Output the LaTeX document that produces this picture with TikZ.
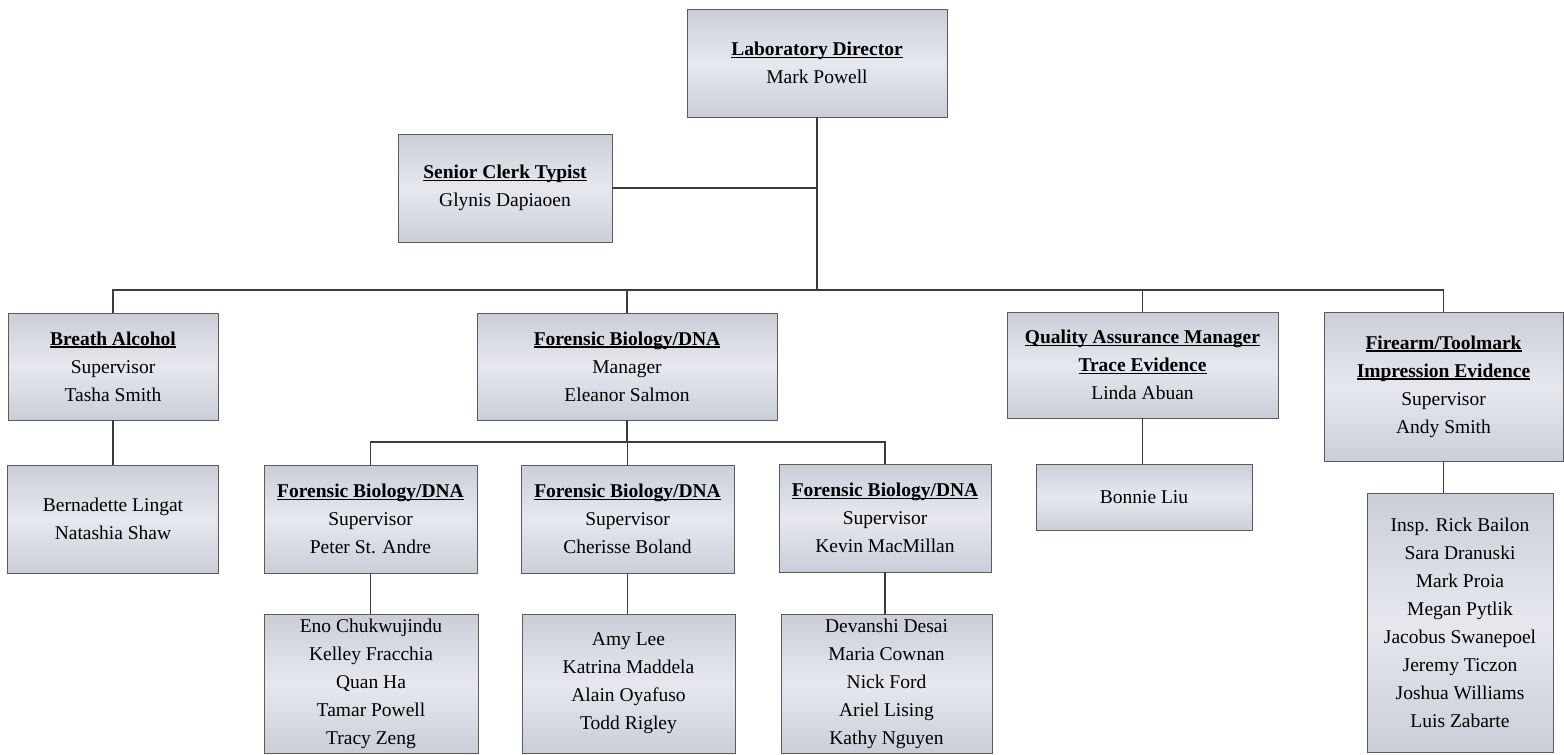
\documentclass[tikz,border=0pt]{standalone}
\usepackage{fontspec}
\setmainfont{Liberation Serif}
\definecolor{bxd}{RGB}{202,206,215}
\definecolor{bxl}{RGB}{230,232,238}
\definecolor{edge}{RGB}{90,90,95}
\definecolor{wire}{RGB}{60,60,60}
\newcommand{\ulin}[1]{\setbox0\hbox{#1}\rlap{\rule[-2.4pt]{\wd0}{1.3pt}}\box0}
\tikzset{
  orgbox/.style={draw=edge, line width=0.9pt, top color=bxd, bottom color=bxd, middle color=bxl,
    inner sep=0pt, align=center, font=\fontsize{19.5pt}{28pt}\selectfont},
  wirel/.style={draw=wire, line width=1.2pt}
}
\begin{document}
\begin{tikzpicture}[x=1pt,y=-1pt]
\useasboundingbox (0,0) rectangle (1564,755);
\fill[white] (0,0) rectangle (1564,755);
% top level
\node[orgbox, minimum width=260pt, minimum height=108pt] (dir) at (817,63) {\ulin{\textbf{Laboratory Director}}\\Mark Powell};
\node[orgbox, minimum width=214pt, minimum height=108pt] (clerk) at (505,188) {\ulin{\textbf{Senior Clerk Typist}}\\Glynis Dapiaoen};
% second level
\node[orgbox, minimum width=210pt, minimum height=107pt] (ba) at (113,366.5) {\ulin{\textbf{Breath Alcohol}}\\Supervisor\\Tasha Smith};
\node[orgbox, minimum width=300pt, minimum height=107pt] (fbm) at (627,366.5) {\ulin{\textbf{Forensic Biology/DNA}}\\Manager\\Eleanor Salmon};
\node[orgbox, minimum width=271pt, minimum height=106pt] (qa) at (1142.5,365) {\ulin{\textbf{Quality Assurance Manager}}\\\ulin{\textbf{Trace Evidence}}\\Linda Abuan};
\node[orgbox, minimum width=239pt, minimum height=149pt] (fa) at (1443.5,386.5) {\ulin{\textbf{Firearm/Toolmark}}\\\ulin{\textbf{Impression Evidence}}\\Supervisor\\Andy Smith};
% third level
\node[orgbox, minimum width=211pt, minimum height=108pt] (bastaff) at (113,519) {Bernadette Lingat\\Natashia Shaw};
\node[orgbox, minimum width=213pt, minimum height=108pt] (s1) at (370.5,519) {\ulin{\textbf{Forensic Biology/DNA}}\\Supervisor\\Peter St. Andre};
\node[orgbox, minimum width=213pt, minimum height=108pt] (s2) at (627.5,519) {\ulin{\textbf{Forensic Biology/DNA}}\\Supervisor\\Cherisse Boland};
\node[orgbox, minimum width=212pt, minimum height=108pt] (s3) at (885,518) {\ulin{\textbf{Forensic Biology/DNA}}\\Supervisor\\Kevin MacMillan};
\node[orgbox, minimum width=216pt, minimum height=66pt] (bonnie) at (1144,497) {Bonnie Liu};
\node[orgbox, minimum width=186pt, minimum height=259pt] (fastaff) at (1460,622.5) {Insp. Rick Bailon\\Sara Dranuski\\Mark Proia\\Megan Pytlik\\Jacobus Swanepoel\\Jeremy Ticzon\\Joshua Williams\\Luis Zabarte};
% fourth level
\node[orgbox, minimum width=214pt, minimum height=139pt] (st1) at (371,683.5) {Eno Chukwujindu\\Kelley Fracchia\\Quan Ha\\Tamar Powell\\Tracy Zeng};
\node[orgbox, minimum width=213pt, minimum height=139pt] (st2) at (628.5,683.5) {Amy Lee\\Katrina Maddela\\Alain Oyafuso\\Todd Rigley};
\node[orgbox, minimum width=211pt, minimum height=139pt] (st3) at (886.5,683.5) {Devanshi Desai\\Maria Cownan\\Nick Ford\\Ariel Lising\\Kathy Nguyen};
% bus coordinates
\coordinate (bus) at (0,290);
\coordinate (sub) at (0,442);
% connectors
\draw[wirel] (dir.south) -- (dir.south |- bus);
\draw[wirel] (clerk.east) -- (clerk.east -| dir.south);
\draw[wirel] (ba.north) -- (ba.north |- bus) -| (fa.north);
\draw[wirel] (fbm.north) -- (fbm.north |- bus);
\draw[wirel] (qa.north) -- (qa.north |- bus);
\draw[wirel] (ba.south) -- (ba.south |- bastaff.north);
\draw[wirel] (fbm.south) -- (fbm.south |- sub);
\draw[wirel] (s1.north) -- (s1.north |- sub) -| (s3.north);
\draw[wirel] (s2.north) -- (s2.north |- sub);
\draw[wirel] (qa.south) -- (qa.south |- bonnie.north);
\draw[wirel] (fa.south) -- (fa.south |- fastaff.north);
\draw[wirel] (s1.south) -- (s1.south |- st1.north);
\draw[wirel] (s2.south) -- (s2.south |- st2.north);
\draw[wirel] (s3.south) -- (s3.south |- st3.north);
\end{tikzpicture}
\end{document}
